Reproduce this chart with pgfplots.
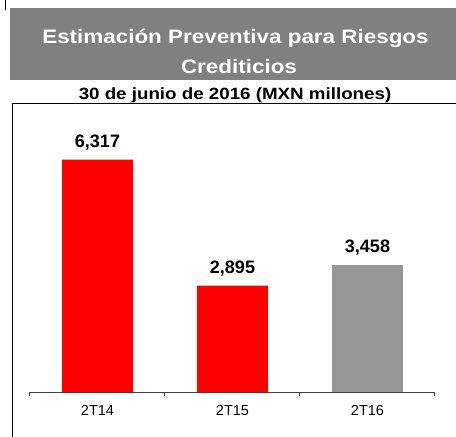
\documentclass[border=0pt]{standalone}
\usepackage{pgfplots}
\pgfplotsset{compat=1.18}
\usepackage{fontspec}
\setmainfont{Liberation Sans}
\newfontfamily\widefont[FakeStretch=1.15]{Liberation Sans}
\definecolor{barred}{HTML}{FF0000}
\definecolor{bargray}{HTML}{969696}
\definecolor{banner}{HTML}{808080}
\definecolor{axisline}{HTML}{404040}
\begin{document}
\begin{tikzpicture}
\path[use as bounding box] (0,0) rectangle (456pt,437pt);
% title banner
\fill[banner] (10pt,357pt) rectangle (456pt,428.7pt);
\node[anchor=base,text=white,inner sep=0pt,font=\widefont\bfseries\fontsize{19.5}{23}\selectfont]
  at (235.5pt,393.7pt) {Estimación Preventiva para Riesgos};
\node[anchor=base,text=white,inner sep=0pt,font=\widefont\bfseries\fontsize{19.5}{23}\selectfont]
  at (239pt,363pt) {Crediticios};
\node[anchor=base,inner sep=0pt,font=\widefont\bfseries\fontsize{16.3}{19}\selectfont]
  at (235pt,337.5pt) {30 de junio de 2016 (MXN millones)};
% frame
\draw[black,line width=1pt] (12pt,0pt) -- (12pt,333pt) -- (456pt,333pt);
\draw[black,line width=1.5pt] (5.5pt,437pt) -- (5.5pt,427pt);
\begin{axis}[
    at={(30pt,45pt)}, anchor=south west,
    scale only axis,
    width=405pt, height=257.4pt,
    xmin=-0.5, xmax=2.5,
    ymin=0, ymax=7000,
    axis x line*=bottom,
    axis y line=none,
    x axis line style={draw=axisline,line width=1pt},
    xtick={0,1,2},
    xticklabels={2T14,2T15,2T16},
    major tick length=0pt,
    minor xtick={-0.5,0.5,1.5,2.5},
    minor tick length=4pt,
    tick align=outside,
    minor tick style={draw=axisline,line width=1pt},
    xticklabel style={font=\fontsize{14.5}{17}\selectfont,yshift=-10pt},
    ybar, bar width=71pt, bar shift=0pt,
    clip=false,
    point meta=explicit symbolic,
    nodes near coords={\pgfplotspointmeta},
    every node near coord/.append style={anchor=base,inner sep=0pt,yshift=12.3pt,
        font=\bfseries\fontsize{18}{20}\selectfont,text=black},
]
\addplot[ybar,fill=barred,draw=none] coordinates {(0,6317) [6{,}317] (1,2895) [2{,}895]};
\addplot[ybar,fill=bargray,draw=none] coordinates {(2,3458) [3{,}458]};
\end{axis}
\end{tikzpicture}
\end{document}
